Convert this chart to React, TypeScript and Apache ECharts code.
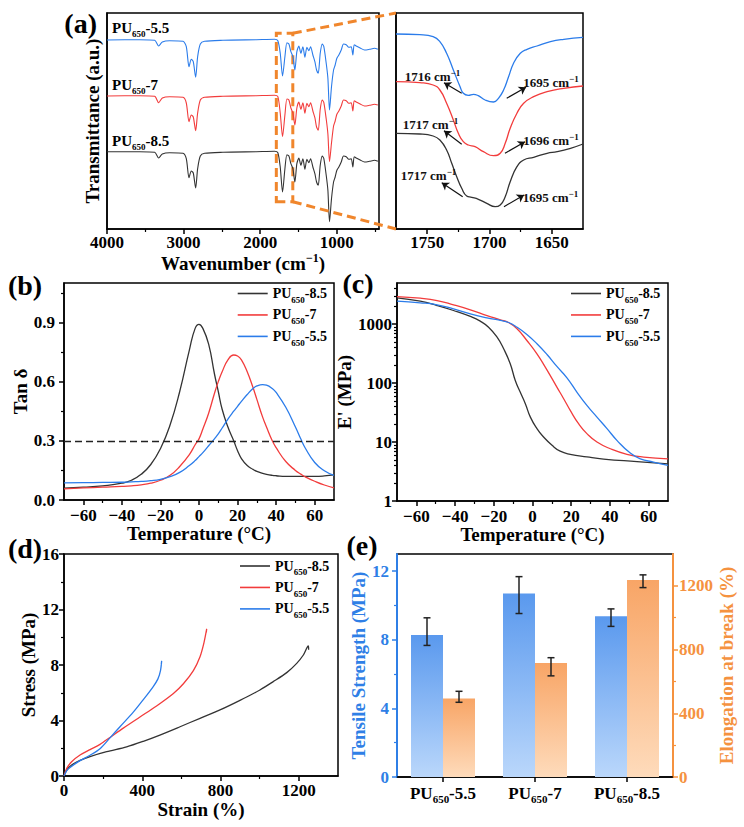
import React, { useEffect, useRef } from 'react';
import * as echarts from 'echarts';

const FONT = '"Liberation Serif", "Times New Roman", Times, serif';
const C_BLACK = '#333333';
const C_RED = '#F23C3C';
const C_BLUE = '#2B7CEA';
const C_ORANGE = '#F0862C';
const C_AX_BLUE = '#2F7FE6';
const C_AX_ORANGE = '#F5923F';

// ---------- (a) FTIR, wavenumber (cm-1) vs transmittance (a.u., offset stacked) ----------
const ftirWn = [4000, 3574, 3378, 3326, 3278, 3182, 3008, 2965, 2930, 2900, 2874, 2843, 2817, 2782, 2726, 2487, 2052, 1813, 1770, 1739, 1709, 1678, 1652, 1626, 1600, 1574, 1548, 1522, 1496, 1470, 1443, 1417, 1391, 1365, 1343, 1313, 1287, 1265, 1243, 1217, 1191, 1170, 1139, 1117, 1096, 1070, 1043, 1022, 1000, 974, 943, 913, 878, 844, 813, 791, 774, 748, 696, 639, 574, 509, 465];
const ftir55 = [189, 189.3, 188.7, 183, 187, 188.3, 187.7, 182.3, 162.3, 169.7, 167.3, 151.7, 172.3, 185, 187.7, 188.7, 189.3, 189.7, 188.3, 175.7, 153, 172.3, 186.3, 185, 177.3, 172.3, 159, 177.3, 183, 175.7, 182.3, 171.7, 181.7, 178.3, 182.3, 174, 167.3, 159, 155.7, 175.7, 185, 182.3, 165.7, 150.7, 119, 142.3, 159, 164, 170.7, 174, 179, 185, 184.3, 181.7, 182.3, 174, 184.3, 183, 181, 179, 179.7, 180.7, 179.7];
const ftir7 = [133, 133.3, 132.7, 126.3, 131, 132.3, 131.7, 126, 107.3, 114, 112, 98.3, 116, 129, 131.7, 132.7, 133.3, 133.7, 132.3, 116, 92.3, 114, 130, 129, 121, 116, 104, 121, 127, 119.7, 126.3, 115.7, 125.7, 122.3, 126.3, 118, 111.3, 102, 98.7, 119.7, 129, 126.3, 110, 95, 67.3, 86, 103, 108, 114.7, 118, 123, 129, 128.3, 125.7, 126.3, 118, 128.3, 127, 125, 123, 123.7, 124.7, 124];
const ftir85 = [77.3, 77.3, 76.7, 71, 75, 76.3, 75.7, 70.3, 51.3, 58, 56, 41, 60.3, 73, 75.7, 76.7, 77.3, 77.7, 76.3, 62, 37, 60.3, 74.3, 73, 65.3, 60.3, 47, 65.3, 71, 63.7, 70.3, 59.7, 69.7, 66.3, 70.3, 62, 55.3, 47, 43.7, 63.7, 73, 70.3, 53.7, 38.7, 7.3, 30.3, 47, 52, 58.7, 62, 67, 73, 72.3, 69.7, 70.3, 62, 72.3, 71, 69, 67, 67.7, 68.7, 67.7];
const ftirRange = [450, 4000];
const zoomBoxWn = [1575, 1790];
const zoomBoxT = [27.3, 195.7];

// inset 1775-1625 cm-1
const insetRange = [1625, 1775];
const inset55 = [[1775, 195], [1755.9, 194.3], [1745.2, 192.3], [1739.8, 187.3], [1734.4, 175.7], [1729, 159], [1723.6, 142.3], [1721, 135.7], [1717, 133.7], [1712.9, 134.7], [1709, 133.3], [1703.5, 129], [1696.8, 127], [1692.8, 130.7], [1688.7, 139], [1684.7, 152.3], [1680.7, 165.7], [1675.3, 175.7], [1669.9, 179.7], [1661.9, 183], [1651.1, 187.3], [1640.4, 189.7], [1625, 191.7]];
const inset7 = [[1775, 147.3], [1755.9, 146.3], [1745.2, 144], [1739.8, 139], [1734.4, 125.7], [1729, 109], [1725, 95.7], [1721, 87.3], [1717, 84], [1711.6, 82.3], [1704.9, 77.3], [1696.8, 73.3], [1691.4, 75.7], [1687.4, 85.7], [1683.4, 100.7], [1678, 115.7], [1672.6, 125.7], [1664.6, 132.3], [1653.8, 137.3], [1640.4, 140.7], [1625, 143]];
const inset85 = [[1775, 95.7], [1755.9, 95], [1745.2, 93], [1739.8, 89], [1734.4, 79], [1730.3, 65.7], [1726.3, 52.3], [1722.3, 40.7], [1718.3, 33], [1714.2, 31.7], [1708.9, 29.7], [1702.2, 25.7], [1695.5, 22.3], [1691.4, 24], [1687.4, 32.3], [1683.4, 47.3], [1678, 62.3], [1672.6, 69], [1664.6, 71.7], [1653.8, 75.7], [1645.7, 77.3], [1635, 80.7], [1625, 85]];
const insetNotes = [[1745.7, 153, '1716'], [1650.7, 147, '1695'], [1747.3, 105, '1717'], [1650.7, 89, '1696'], [1748.9, 54, '1717'], [1651.1, 32, '1695']];
const insetArrows = [[1722.3, 135.7, 1736.5, 146.3], [1686.2, 130.7, 1670.7, 141.7], [1722.3, 84.7, 1736.5, 98.3], [1687.6, 75.7, 1671.5, 87.3], [1721.5, 32.3, 1738.3, 46.3], [1688.4, 22.3, 1672.3, 34]];

// ---------- (b) tan delta ----------
const tanTemp = [-70, -60, -50, -40, -35, -30, -25, -20, -15, -10, -5, -2, 0, 2, 5, 8, 10, 12, 15, 18, 20, 22, 25, 28, 30, 33, 35, 38, 40, 45, 50, 53, 55, 60, 65, 70];
const tan85 = [0.06, 0.065, 0.072, 0.085, 0.10, 0.13, 0.18, 0.26, 0.38, 0.55, 0.76, 0.87, 0.89, 0.87, 0.79, 0.64, 0.55, 0.46, 0.37, 0.30, 0.25, 0.21, 0.175, 0.155, 0.145, 0.135, 0.13, 0.125, 0.123, 0.12, 0.12, 0.12, 0.12, 0.12, 0.122, 0.127];
const tan7 = [0.056, 0.061, 0.065, 0.069, 0.072, 0.077, 0.085, 0.10, 0.125, 0.17, 0.23, 0.28, 0.31, 0.36, 0.44, 0.54, 0.60, 0.65, 0.71, 0.735, 0.73, 0.71, 0.65, 0.57, 0.51, 0.42, 0.37, 0.30, 0.265, 0.195, 0.15, 0.13, 0.118, 0.095, 0.076, 0.062];
const tan55 = [0.087, 0.088, 0.089, 0.09, 0.092, 0.094, 0.098, 0.105, 0.118, 0.14, 0.175, 0.20, 0.22, 0.24, 0.275, 0.31, 0.335, 0.365, 0.41, 0.45, 0.475, 0.50, 0.535, 0.565, 0.578, 0.585, 0.582, 0.565, 0.545, 0.47, 0.37, 0.305, 0.265, 0.19, 0.148, 0.125];
const tanRef = 0.3;

// ---------- (c) storage modulus (MPa) ----------
const mod85 = [[-70, 2800], [-58, 2455], [-49.3, 2075], [-40.8, 1707], [-32.1, 1352], [-27, 1125], [-22.7, 889], [-18.3, 602], [-14.9, 383], [-11.5, 213], [-8.9, 111], [-6.3, 70], [-3.7, 44.8], [-1.1, 26.5], [2.3, 16.9], [5.7, 12.2], [10.1, 8.8], [14.3, 7.0], [19.5, 6.2], [28.1, 5.6], [36.7, 5.15], [54, 4.65], [70, 4.25]];
const mod7 = [[-70, 2946], [-58, 2760], [-49.3, 2522], [-40.8, 2133], [-32.1, 1754], [-23.5, 1403], [-16.6, 1187], [-12.4, 1069], [-8, 836], [-2.9, 529], [2.3, 315], [6.6, 187], [10.1, 119], [12.6, 85.5], [16.1, 54.4], [19.5, 34.4], [23.8, 20.5], [28.1, 13.9], [33.3, 10], [40.2, 7.7], [48.8, 6.2], [57.4, 5.57], [70, 5.2]];
const mod55 = [[-70, 2455], [-58, 2306], [-49.3, 2133], [-40.8, 1823], [-32.1, 1500], [-23.5, 1283], [-16.6, 1156], [-12.4, 1069], [-8, 889], [-2.9, 669], [2.3, 465], [7.5, 306], [12.6, 192], [17.8, 123], [23, 70], [28.1, 41.9], [33.3, 26.5], [38.5, 16.9], [43.6, 10.7], [50.5, 6.5], [55.7, 5.2], [62.5, 4.58], [70, 4.03]];

// ---------- (d) stress-strain ----------
const ss85 = [[0, 0], [14, 0.43], [39, 0.79], [82, 1.13], [133, 1.4], [218, 1.75], [320, 2.1], [405, 2.5], [490, 2.95], [593, 3.55], [695, 4.16], [797, 4.76], [899, 5.45], [1001, 6.2], [1069, 6.8], [1138, 7.45], [1189, 8.12], [1223, 8.72], [1248, 9.37], [1250, 9.1]];
const ss7 = [[0, 0], [14, 0.55], [39, 1.03], [82, 1.51], [133, 1.9], [184, 2.28], [235, 2.78], [303, 3.45], [388, 4.25], [473, 5.05], [559, 5.95], [610, 6.65], [661, 7.6], [695, 8.6], [715, 9.6], [729, 10.6], [727, 10.35]];
const ss55 = [[0, 0], [14, 0.38], [31, 0.62], [72, 1.02], [133, 1.5], [184, 1.97], [235, 2.75], [286, 3.55], [354, 4.6], [405, 5.5], [456, 6.45], [480, 7.0], [493, 7.6], [499, 8.3], [497, 8.05]];

// ---------- (e) mechanical properties ----------
const mechCats = ['PU650-5.5', 'PU650-7', 'PU650-8.5'];
const tensile = [8.28, 10.70, 9.37];
const tensileHi = [9.28, 11.68, 9.80];
const tensileLo = [7.67, 9.53, 8.78];
const elong = [493, 716, 1236];
const elongHi = [538, 749, 1269];
const elongLo = [469, 635, 1189];

// ---------- ticks ----------
const ftirTicks = [1000, 2000, 3000, 4000];
const ftirMinor = [500, 1500, 2500, 3500];
const insetTicks = [1650, 1700, 1750];
const insetMinor = [1675, 1725];
const tempTicks = [-60, -40, -20, 0, 20, 40, 60];
const tempMinor = [-50, -30, -10, 10, 30, 50];
const tanTicks = [0, 0.3, 0.6, 0.9];
const tanMinor = [0.15, 0.45, 0.75, 1.05];
const modTicks = [1, 10, 100, 1000];
const modMinor = [2, 3, 4, 5, 6, 7, 8, 9, 20, 30, 40, 50, 60, 70, 80, 90, 200, 300, 400, 500, 600, 700, 800, 900, 2000, 3000, 4000];
const strainTicks = [0, 400, 800, 1200];
const strainMinor = [200, 600, 1000];
const stressTicks = [0, 4, 8, 12, 16];
const stressMinor = [2, 6, 10, 14];
const tsTicks = [0, 4, 8, 12];
const tsMinor = [2, 6, 10];
const ebTicks = [0, 400, 800, 1200];
const ebMinor = [200, 600, 1000];

const legendNames = ['PU650-8.5', 'PU650-7', 'PU650-5.5'];

// ---------- layout ----------
const BAR_W = 32;
const panelLabels: [string, number, number][] = [['(a)', 80.7, 23], ['(b)', 25, 285], ['(c)', 358, 283], ['(d)', 25, 548], ['(e)', 362, 545]];
const specLabels: [string, number, number][] = [['PU650-5.5', 112, 28], ['PU650-7', 112, 85], ['PU650-8.5', 112, 141]];

const TICKFONT = { fontFamily: FONT, fontWeight: 'bold', fontSize: 17, color: '#000' };
const NAMEFONT = { fontFamily: FONT, fontWeight: 'bold', fontSize: 19, color: '#000' };

const richSub = (size: number, sub: number, lh: number, color = '#000') => ({
  b: { fontFamily: FONT, fontWeight: 'bold', fontSize: size, color, lineHeight: lh },
  s: { fontFamily: FONT, fontWeight: 'bold', fontSize: sub, color, lineHeight: sub, verticalAlign: 'bottom' },
});
const puRich = (name: string) => `{b|PU}{s|650}{b|${name.replace('PU650', '')}}`;
const fmtNum = (v: number) => String(v).replace('-', '\u2212');

function mainX(grid: number, min: number, max: number, ticks: number[], name: string, gap: number, extra: any = {}) {
  return {
    type: 'value', gridIndex: grid, min, max, position: 'bottom',
    name, nameLocation: 'middle', nameGap: gap, nameTextStyle: NAMEFONT,
    axisLine: { show: true, onZero: false, lineStyle: { color: '#000', width: 1.5 } },
    axisTick: { show: true, length: 5, customValues: ticks, lineStyle: { color: '#000', width: 1.5 } },
    axisLabel: { show: true, margin: 5, customValues: ticks, formatter: fmtNum, ...TICKFONT },
    splitLine: { show: false },
    ...extra,
  };
}
function minorX(grid: number, min: number, max: number, ticks: number[], extra: any = {}) {
  return {
    type: 'value', gridIndex: grid, min, max, position: 'bottom',
    axisLine: { show: false, onZero: false },
    axisTick: { show: true, length: 3, customValues: ticks, lineStyle: { color: '#000', width: 1.2 } },
    axisLabel: { show: false }, splitLine: { show: false },
    ...extra,
  };
}
function mainY(grid: number, min: number, max: number, ticks: number[] | null, name: string, gap: number, extra: any = {}) {
  return {
    type: 'value', gridIndex: grid, min, max, position: 'left',
    name, nameLocation: 'middle', nameGap: gap, nameTextStyle: NAMEFONT,
    axisLine: { show: true, onZero: false, lineStyle: { color: '#000', width: 1.5 } },
    axisTick: ticks ? { show: true, length: 5, customValues: ticks, lineStyle: { color: '#000', width: 1.5 } } : { show: false },
    axisLabel: ticks ? { show: true, margin: 5, customValues: ticks, formatter: fmtNum, ...TICKFONT } : { show: false },
    splitLine: { show: false },
    ...extra,
  };
}
function minorY(grid: number, min: number, max: number, ticks: number[], extra: any = {}) {
  return {
    type: 'value', gridIndex: grid, min, max, position: 'left',
    axisLine: { show: false, onZero: false },
    axisTick: { show: true, length: 3, customValues: ticks, lineStyle: { color: '#000', width: 1.2 } },
    axisLabel: { show: false }, splitLine: { show: false },
    ...extra,
  };
}
function line(name: string, x: number, y: number, data: any[], color: string, width = 1.3, smooth: any = true, extra: any = {}) {
  return {
    type: 'line', name, xAxisIndex: x, yAxisIndex: y, data, symbol: 'none', showSymbol: false,
    smooth, lineStyle: { color, width }, itemStyle: { color }, silent: true, z: 3, ...extra,
  };
}
function legendAt(left: number, top: number) {
  return {
    left, top, orient: 'vertical', padding: 0, itemGap: 3.6, itemWidth: 30, itemHeight: 1.6,
    icon: 'rect', selectedMode: false, data: legendNames,
    formatter: (n: string) => puRich(n),
    textStyle: { fontFamily: FONT, fontWeight: 'bold', fontSize: 14, color: '#000', rich: richSub(14, 9, 21.7) },
  };
}
function errorBars(yIdx: number, lo: number[], hi: number[], dx: number) {
  return {
    type: 'custom', xAxisIndex: 10, yAxisIndex: yIdx, z: 10, silent: true,
    data: mechCats.map((_, i) => [i, lo[i], hi[i]]),
    encode: { x: 0, y: [1, 2] },
    renderItem: (params: any, api: any) => {
      const i = api.value(0);
      const pLo = api.coord([i, api.value(1)]);
      const pHi = api.coord([i, api.value(2)]);
      const cx = pLo[0] + dx;
      const st = { stroke: '#222', lineWidth: 1.5 };
      return {
        type: 'group', children: [
          { type: 'line', shape: { x1: cx, y1: pHi[1], x2: cx, y2: pLo[1] }, style: st },
          { type: 'line', shape: { x1: cx - 3.5, y1: pHi[1], x2: cx + 3.5, y2: pHi[1] }, style: st },
          { type: 'line', shape: { x1: cx - 3.5, y1: pLo[1], x2: cx + 3.5, y2: pLo[1] }, style: st },
        ],
      };
    },
  };
}

function baseGraphics() {
  const g: any[] = [];
  panelLabels.forEach(([t, x, y], i) => g.push({
    id: 'pl' + i, type: 'text', x, y, z: 20,
    style: { text: t, font: `bold 28px ${FONT}`, fill: '#000', align: 'center', verticalAlign: 'middle' },
  }));
  specLabels.forEach(([n, x, y], i) => g.push({
    id: 'sl' + i, type: 'text', x, y, z: 20,
    style: { text: puRich(n), rich: richSub(15, 9, 20), align: 'left', verticalAlign: 'middle', fill: '#000' },
  }));
  return g;
}

function buildOption() {
  const gridBox = { show: true, borderColor: '#000', borderWidth: 1.5, backgroundColor: 'transparent', containLabel: false };
  const grids = [
    { left: 107, top: 13, width: 272, height: 216 },
    { left: 396, top: 13, width: 187, height: 216 },
    { left: 64, top: 283, width: 270, height: 217 },
    { left: 397, top: 283, width: 271, height: 218 },
    { left: 64, top: 554, width: 274, height: 222 },
    { left: 397, top: 554, width: 276, height: 223 },
  ].map((g) => ({ ...gridBox, ...g }));

  const xAxis: any[] = [
    mainX(0, ftirRange[0], ftirRange[1], ftirTicks, '{t|Wavenumber (cm}{sup|\u22121}{t|)}', 22, {
      inverse: true,
      nameTextStyle: {
        ...NAMEFONT,
        rich: {
          t: { fontFamily: FONT, fontWeight: 'bold', fontSize: 19, color: '#000', lineHeight: 24 },
          sup: { fontFamily: FONT, fontWeight: 'bold', fontSize: 12, color: '#000', lineHeight: 12, verticalAlign: 'top' },
        },
      },
    }),
    minorX(0, ftirRange[0], ftirRange[1], ftirMinor, { inverse: true }),
    mainX(1, insetRange[0], insetRange[1], insetTicks, '', 20, { inverse: true }),
    minorX(1, insetRange[0], insetRange[1], insetMinor, { inverse: true }),
    mainX(2, -70, 70, tempTicks, 'Temperature (\u00B0C)', 23.5, { axisLabel: { show: true, margin: 6.5, customValues: tempTicks, formatter: fmtNum, ...TICKFONT } }),
    minorX(2, -70, 70, tempMinor),
    mainX(3, -70, 70, tempTicks, 'Temperature (\u00B0C)', 22.5, { axisLabel: { show: true, margin: 6.5, customValues: tempTicks, formatter: fmtNum, ...TICKFONT } }),
    minorX(3, -70, 70, tempMinor),
    mainX(4, 0, 1400, strainTicks, 'Strain (%)', 23.5, { axisLabel: { show: true, margin: 5.5, customValues: strainTicks, formatter: fmtNum, ...TICKFONT } }),
    minorX(4, 0, 1400, strainMinor),
    {
      type: 'category', gridIndex: 5, data: mechCats, position: 'bottom',
      axisLine: { show: true, onZero: false, lineStyle: { color: '#000', width: 1.5 } },
      axisTick: { show: true, alignWithLabel: true, length: 5, lineStyle: { color: '#000', width: 1.5 } },
      axisLabel: { show: true, interval: 0, margin: 6, formatter: (v: string) => puRich(v), rich: richSub(17, 11, 21) },
      splitLine: { show: false },
    },
  ];

  const yAxis: any[] = [
    mainY(0, 0, 216, null, 'Transmittance (a.u.)', 5.5),
    mainY(1, 0, 216, null, '', 10),
    mainY(2, 0, 1.1, tanTicks, 'Tan \u03B4', 29.5, {
      axisLabel: { show: true, margin: 9, customValues: tanTicks, formatter: (v: number) => v.toFixed(1), ...TICKFONT },
    }),
    minorY(2, 0, 1.1, tanMinor),
    {
      ...mainY(3, 1, 5000, modTicks, "E' (MPa)", 26),
      type: 'log', logBase: 10,
    },
    { ...minorY(3, 1, 5000, modMinor), type: 'log', logBase: 10 },
    mainY(4, 0, 16, stressTicks, 'Stress (MPa)', 23),
    minorY(4, 0, 16, stressMinor),
    mainY(5, 0, 13, tsTicks, 'Tensile Strength (MPa)', 26, {
      nameTextStyle: { ...NAMEFONT, color: C_AX_BLUE },
      axisLine: { show: true, onZero: false, lineStyle: { color: C_AX_BLUE, width: 2 } },
      axisTick: { show: true, length: 5, customValues: tsTicks, lineStyle: { color: C_AX_BLUE, width: 1.5 } },
      axisLabel: { show: true, margin: 8, customValues: tsTicks, formatter: fmtNum, ...TICKFONT, color: C_AX_BLUE },
    }),
    minorY(5, 0, 13, tsMinor, { axisTick: { show: true, length: 3, customValues: tsMinor, lineStyle: { color: C_AX_BLUE, width: 1.2 } } }),
    mainY(5, 0, 1400, ebTicks, 'Elongation at break (%)', 42, {
      position: 'right',
      nameTextStyle: { ...NAMEFONT, color: C_AX_ORANGE },
      axisLine: { show: true, onZero: false, lineStyle: { color: C_AX_ORANGE, width: 2 } },
      axisTick: { show: true, length: 5, customValues: ebTicks, lineStyle: { color: C_AX_ORANGE, width: 1.5 } },
      axisLabel: { show: true, margin: 6, customValues: ebTicks, formatter: fmtNum, ...TICKFONT, color: C_AX_ORANGE },
    }),
    minorY(5, 0, 1400, ebMinor, { position: 'right', axisTick: { show: true, length: 3, customValues: ebMinor, lineStyle: { color: C_AX_ORANGE, width: 1.2 } } }),
  ];

  const annoRich = {
    t: { fontFamily: FONT, fontWeight: 'bold', fontSize: 13, color: '#111', lineHeight: 16 },
    sup: { fontFamily: FONT, fontWeight: 'bold', fontSize: 9, color: '#111', lineHeight: 9, verticalAlign: 'top' },
  };

  const series: any[] = [
    line('ftir-5.5', 0, 0, ftirWn.map((w, i) => [w, ftir55[i]]), C_BLUE, 1.1, 0.25, {
      markArea: {
        silent: true,
        itemStyle: { color: 'rgba(0,0,0,0)', borderColor: C_ORANGE, borderWidth: 3, borderType: [9, 5] },
        data: [[{ coord: [zoomBoxWn[1], zoomBoxT[0]] }, { coord: [zoomBoxWn[0], zoomBoxT[1]] }]],
      },
    }),
    line('ftir-7', 0, 0, ftirWn.map((w, i) => [w, ftir7[i]]), C_RED, 1.1, 0.25),
    line('ftir-8.5', 0, 0, ftirWn.map((w, i) => [w, ftir85[i]]), C_BLACK, 1.1, 0.25),
    line('inset-5.5', 2, 1, inset55, C_BLUE, 1.3, true, {
      markLine: {
        silent: true, symbol: ['none', 'arrow'], symbolSize: 7, animation: false,
        lineStyle: { color: '#111', width: 1.2, type: 'solid' }, label: { show: false },
        data: insetArrows.map((a) => [{ coord: [a[0], a[1]] }, { coord: [a[2], a[3]] }]),
      },
      markPoint: {
        silent: true, symbol: 'circle', symbolSize: 1, itemStyle: { color: 'rgba(0,0,0,0)' },
        label: { show: true, position: 'inside', color: '#111', formatter: (p: any) => `{t|${p.name} cm}{sup|\u22121}`, rich: annoRich },
        data: insetNotes.map((n) => ({ coord: [n[0], n[1]], name: n[2] })),
      },
    }),
    line('inset-7', 2, 1, inset7, C_RED, 1.3),
    line('inset-8.5', 2, 1, inset85, C_BLACK, 1.3),
    line('PU650-8.5', 4, 2, tanTemp.map((t, i) => [t, tan85[i]]), C_BLACK, 1.3, true, {
      markLine: {
        silent: true, symbol: 'none', animation: false, label: { show: false },
        lineStyle: { color: '#222', width: 1.3, type: [7, 4] },
        data: [{ yAxis: tanRef }],
      },
    }),
    line('PU650-7', 4, 2, tanTemp.map((t, i) => [t, tan7[i]]), C_RED, 1.3),
    line('PU650-5.5', 4, 2, tanTemp.map((t, i) => [t, tan55[i]]), C_BLUE, 1.3),
    line('PU650-8.5', 6, 4, mod85, C_BLACK, 1.3),
    line('PU650-7', 6, 4, mod7, C_RED, 1.3),
    line('PU650-5.5', 6, 4, mod55, C_BLUE, 1.3),
    line('PU650-8.5', 8, 6, ss85, C_BLACK, 1.3, 0.3),
    line('PU650-7', 8, 6, ss7, C_RED, 1.3, 0.3),
    line('PU650-5.5', 8, 6, ss55, C_BLUE, 1.3, 0.3),
    {
      type: 'bar', name: 'Tensile Strength', xAxisIndex: 10, yAxisIndex: 8, data: tensile,
      barWidth: BAR_W, barGap: '0%', silent: true,
      itemStyle: { color: new echarts.graphic.LinearGradient(0, 0, 0, 1, [{ offset: 0, color: '#5A99EE' }, { offset: 1, color: '#BAD7FB' }]) },
    },
    {
      type: 'bar', name: 'Elongation at break', xAxisIndex: 10, yAxisIndex: 10, data: elong,
      barWidth: BAR_W, barGap: '0%', silent: true,
      itemStyle: { color: new echarts.graphic.LinearGradient(0, 0, 0, 1, [{ offset: 0, color: '#F8A566' }, { offset: 1, color: '#FEDBBB' }]) },
    },
    errorBars(8, tensileLo, tensileHi, -BAR_W / 2),
    errorBars(10, elongLo, elongHi, BAR_W / 2),
  ];

  return {
    animation: false,
    backgroundColor: '#fff',
    textStyle: { fontFamily: FONT },
    grid: grids,
    xAxis,
    yAxis,
    legend: [legendAt(237.7, 286.5), legendAt(571, 286.5), legendAt(240, 559)],
    series,
    graphic: baseGraphics(),
  };
}

export default function App() {
  const ref = useRef<HTMLDivElement>(null);
  useEffect(() => {
    document.body.style.margin = '0';
    const chart = echarts.init(ref.current as HTMLDivElement, null, { renderer: 'svg' });
    chart.setOption(buildOption() as any);
    // dashed connectors from the zoom box to the inset corners
    const bTop = chart.convertToPixel({ xAxisIndex: 0, yAxisIndex: 0 } as any, [zoomBoxWn[0], zoomBoxT[1]]) as number[];
    const bBot = chart.convertToPixel({ xAxisIndex: 0, yAxisIndex: 0 } as any, [zoomBoxWn[0], zoomBoxT[0]]) as number[];
    const iTop = chart.convertToPixel({ xAxisIndex: 2, yAxisIndex: 1 } as any, [insetRange[1], 216]) as number[];
    const iBot = chart.convertToPixel({ xAxisIndex: 2, yAxisIndex: 1 } as any, [insetRange[1], 0]) as number[];
    const st = { stroke: C_ORANGE, lineWidth: 3, lineDash: [9, 5] };
    chart.setOption({
      graphic: [
        ...baseGraphics(),
        { id: 'c1', type: 'line', z: 15, shape: { x1: bTop[0], y1: bTop[1], x2: iTop[0], y2: iTop[1] }, style: st },
        { id: 'c2', type: 'line', z: 15, shape: { x1: bBot[0], y1: bBot[1], x2: iBot[0], y2: iBot[1] }, style: st },
      ],
    } as any);
    return () => chart.dispose();
  }, []);
  return <div ref={ref} style={{ width: 744, height: 827 }} />;
}
